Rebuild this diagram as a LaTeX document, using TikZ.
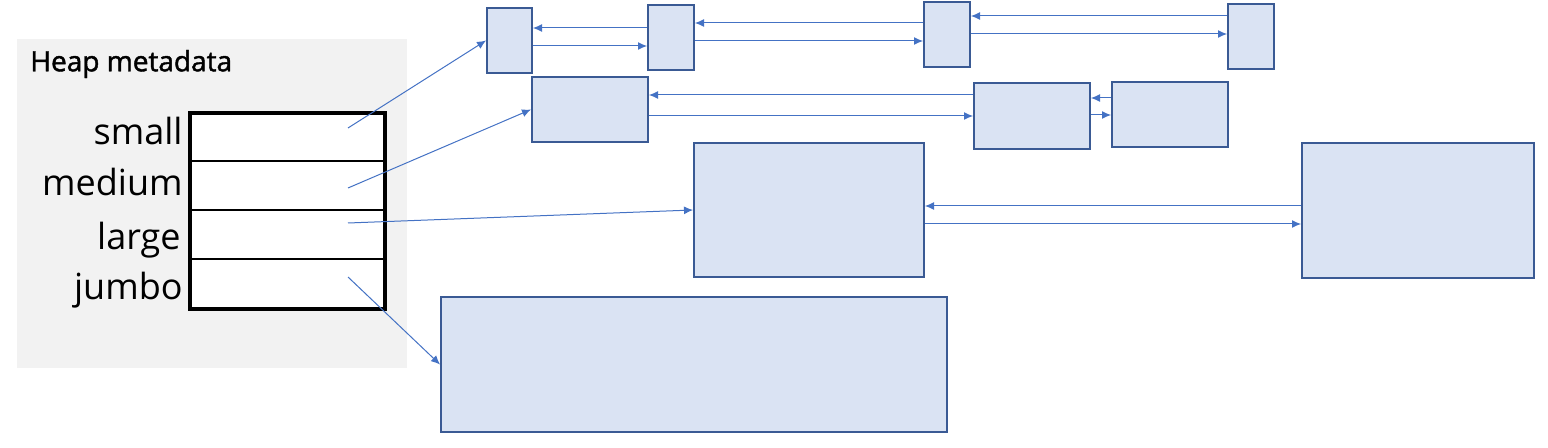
\documentclass[tikz,border=0pt]{standalone}
\usepackage{fontspec}
\setmainfont{Open Sans}
\newfontfamily\titlefont[FakeBold=1.5]{Open Sans}
\usetikzlibrary{arrows.meta}
\tikzset{% change default arrow tips
    >={Latex[length=4.5pt,width=4pt]}
}
\definecolor{blkfill}{HTML}{DAE3F3}
\definecolor{blkline}{HTML}{3A5A94}
\definecolor{ptrblue}{HTML}{4472C4}
\definecolor{metagray}{HTML}{F2F2F2}

\begin{document}
\begin{tikzpicture}[x=0.5pt,y=-0.5pt]
    % set the styles of the blocks and pointers
    \tikzset{
        blk/.style={
            draw=blkline,
            fill=blkfill,
            line width=1pt,
            anchor=north west,
            inner sep=0pt
            },
        slot/.style={
            draw,
            fill=white,
            line width=0.8pt,
            anchor=north west,
            minimum width=96.5pt,
            minimum height=24.5pt,
            inner sep=0pt
            },
        ptr/.style={
            ->,
            draw=ptrblue,
            line width=0.5pt
            },
        lbl/.style={
            anchor=east,
            font=\fontsize{18}{20}\selectfont,
            inner sep=0pt
            }
    }
    \useasboundingbox (0,0) rectangle (1548,448);

    % heap metadata
    \fill[metagray] (17,39) rectangle (407,368);
    \node[anchor=west, inner sep=0pt, font=\titlefont\fontsize{14}{16}\selectfont] (title) at (30,64) {Heap metadata};

    % size classes
    \node[slot] (small)  at (190,113) {};
    \node[slot] (medium) at (190,160) {};
    \node[slot] (large)  at (190,209) {};
    \node[slot] (jumbo)  at (190,258) {};
    \draw[line width=2pt] (small.north west) rectangle (jumbo.south east);

    \node[lbl] at ([xshift=-3.5pt,yshift=3.5pt]small.west)  {small};
    \node[lbl] at ([xshift=-3.5pt,yshift=1.5pt]medium.west) {medium};
    \node[lbl] at ([xshift=-4.5pt,yshift=-3pt]large.west)   {large};
    \node[lbl] at ([xshift=-3.5pt,yshift=-3.5pt]jumbo.west) {jumbo};

    \coordinate (psmall)  at (348,128);
    \coordinate (pmedium) at (348,188);
    \coordinate (plarge)  at (348,223);
    \coordinate (pjumbo)  at (348,277);

    % small blocks
    \node[blk, minimum width=22.5pt, minimum height=32.5pt] (a1) at (486,7) {};
    \node[blk, minimum width=23pt,   minimum height=32.5pt] (a2) at (647,4) {};
    \node[blk, minimum width=23pt,   minimum height=32.5pt] (a3) at (923,1) {};
    \node[blk, minimum width=23pt,   minimum height=32.5pt] (a4) at (1227,3) {};

    % medium blocks
    \node[blk, minimum width=58pt, minimum height=32.5pt] (b1) at (531,76) {};
    \node[blk, minimum width=58pt, minimum height=33pt]   (b2) at (973,82) {};
    \node[blk, minimum width=58pt, minimum height=32.5pt] (b3) at (1111,81) {};

    % large blocks
    \node[blk, minimum width=115pt, minimum height=67pt]   (c1) at (693,142) {};
    \node[blk, minimum width=116pt, minimum height=67.5pt] (c2) at (1301,142) {};

    % jumbo block
    \node[blk, minimum width=253pt, minimum height=67.5pt] (d) at (440,296) {};

    % pointers from the metadata
    \draw[ptr] (psmall)  -- (a1.west);
    \draw[ptr] (pmedium) -- (b1.west);
    \draw[ptr] (plarge)  -- (c1.west);
    \draw[ptr] (pjumbo)  -- (d.west);

    % small list
    \draw[ptr] ([yshift=4.75pt]a2.west)  -- ([yshift=4.75pt]a2.west -| a1.east);
    \draw[ptr] ([yshift=-2.75pt]a1.east) -- ([yshift=-2.75pt]a1.east -| a2.west);
    \draw[ptr] ([yshift=5.75pt]a3.west)  -- ([yshift=5.75pt]a3.west -| a2.east);
    \draw[ptr] ([yshift=-1.75pt]a2.east) -- ([yshift=-1.75pt]a2.east -| a3.west);
    \draw[ptr] ([yshift=10.25pt]a4.west) -- ([yshift=10.25pt]a4.west -| a3.east);
    \draw[ptr] ([yshift=0.25pt]a3.east)  -- ([yshift=0.25pt]a3.east -| a4.west);

    % medium list
    \draw[ptr] ([yshift=10.5pt]b2.west)  -- ([yshift=10.5pt]b2.west -| b1.east);
    \draw[ptr] ([yshift=-3.25pt]b1.east) -- ([yshift=-3.25pt]b1.east -| b2.west);
    \draw[ptr] ([yshift=8.25pt]b3.west)  -- ([yshift=8.25pt]b3.west -| b2.east);
    \draw[ptr] ([yshift=0.5pt]b2.east)   -- ([yshift=0.5pt]b2.east -| b3.west);

    % large list
    \draw[ptr] ([yshift=2.25pt]c2.west) -- ([yshift=2.25pt]c2.west -| c1.east);
    \draw[ptr] ([yshift=-7pt]c1.east)   -- ([yshift=-7pt]c1.east -| c2.west);
\end{tikzpicture}
\end{document}
